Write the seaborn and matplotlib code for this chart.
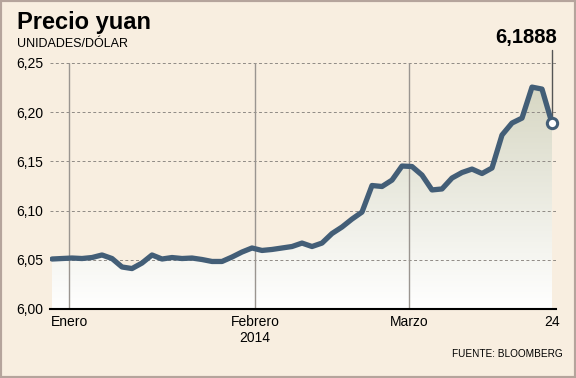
import numpy as np
import pandas as pd
import matplotlib
matplotlib.use("Agg")
import matplotlib.pyplot as plt
import seaborn as sns
from matplotlib.ticker import FuncFormatter

# yuan per dollar, roughly every trading day from late Dec 2013 to 24 March 2014
precio = [6.0508, 6.0513, 6.0518, 6.0513, 6.0523, 6.0549, 6.0513, 6.0427, 6.0411, 6.0467,
          6.0549, 6.0508, 6.0523, 6.0513, 6.0518, 6.0503, 6.0483, 6.0483, 6.0528, 6.0579,
          6.0620, 6.0595, 6.0605, 6.0620, 6.0635, 6.0670, 6.0635, 6.0670, 6.0767, 6.0833,
          6.0914, 6.0985, 6.1255, 6.1245, 6.1310, 6.1453, 6.1448, 6.1361, 6.1210, 6.1220,
          6.1331, 6.1387, 6.1422, 6.1377, 6.1433, 6.1768, 6.1890, 6.1940, 6.2255, 6.2235,
          6.1888]
mes_pos = [1.7, 20.3, 35.7, 50]
mes_labels = ["Enero", "Febrero\n2014", "Marzo", "24"]
y_ticks = [6.00, 6.05, 6.10, 6.15, 6.20, 6.25]

df = pd.DataFrame({"dia": np.arange(len(precio)), "precio": precio})

bg = "#F8EEE0"
azul = "#435E77"

sns.set_theme(style="white")
plt.rcParams["font.family"] = ["Liberation Sans", "DejaVu Sans"]
plt.rcParams["text.color"] = "black"

fig = plt.figure(figsize=(5.76, 3.78), dpi=100, facecolor=bg)
ax = fig.add_axes([50 / 576, 1 - 309 / 378, 506 / 576, 246 / 378])
ax.set_facecolor(bg)

# gradient under the line
xmax = df["dia"].iloc[-1]
grad = np.linspace(0, 1, 256).reshape(-1, 1)
cmap = matplotlib.colors.LinearSegmentedColormap.from_list("g", ["#FFFFFF", "#D6D6C2"])
img = ax.imshow(grad, cmap=cmap, aspect="auto", origin="lower",
                extent=[0, xmax, 6.0, 6.23], zorder=1)
poly = ax.fill_between(df["dia"], 6.0, df["precio"], color="none", zorder=0)
img.set_clip_path(poly.get_paths()[0], transform=ax.transData)

for y in y_ticks[1:]:
    ax.axhline(y, color="#8F8A85", lw=0.7, ls=(0, (3, 2.5)), zorder=2)
for x in mes_pos[:3]:
    ax.axvline(x, color="#9A9590", lw=1.0, zorder=2)

sns.lineplot(data=df, x="dia", y="precio", ax=ax, color=azul, lw=3.8,
             zorder=4, solid_joinstyle="round", solid_capstyle="round")

ultimo = precio[-1]
ax.plot([xmax, xmax], [ultimo, 6.263], color="#555555", lw=1.0, zorder=3, clip_on=False)
sns.scatterplot(x=[xmax], y=[ultimo], ax=ax, s=55, color="white",
                edgecolor=azul, linewidth=2.2, zorder=5, clip_on=False)
ax.text(xmax + 0.5, 6.266, f"{ultimo:.4f}".replace(".", ","), ha="right", va="bottom",
        fontsize=14.5, fontweight="bold", color="black")

ax.set_xlim(-0.2, 50.4)
ax.set_ylim(6.0, 6.25)
ax.set_yticks(y_ticks)
ax.yaxis.set_major_formatter(FuncFormatter(lambda v, p: f"{v:.2f}".replace(".", ",")))
ax.set_xticks(mes_pos)
ax.set_xticklabels(mes_labels)
ax.tick_params(axis="both", length=0, labelsize=10, colors="black")
ax.tick_params(axis="x", pad=4)
ax.tick_params(axis="y", pad=5)
ax.set_xlabel("")
ax.set_ylabel("")
for s in ["top", "right", "left"]:
    ax.spines[s].set_visible(False)
ax.spines["bottom"].set_color("black")
ax.spines["bottom"].set_linewidth(1.5)

fig.text(17 / 576, 1 - 11 / 378, "Precio yuan", ha="left", va="top",
         fontsize=17, fontweight="bold")
fig.text(17 / 576, 1 - 38 / 378, "UNIDADES/DÓLAR", ha="left", va="top", fontsize=9)
fig.text(563 / 576, 1 - 349 / 378, "FUENTE: BLOOMBERG", ha="right", va="top", fontsize=7.2)

fig.patches.append(matplotlib.patches.Rectangle((0, 0), 1, 1, transform=fig.transFigure,
                                                fill=False, edgecolor="#B5A49C", lw=3))
fig.savefig("out.png", dpi=100, facecolor=bg)
